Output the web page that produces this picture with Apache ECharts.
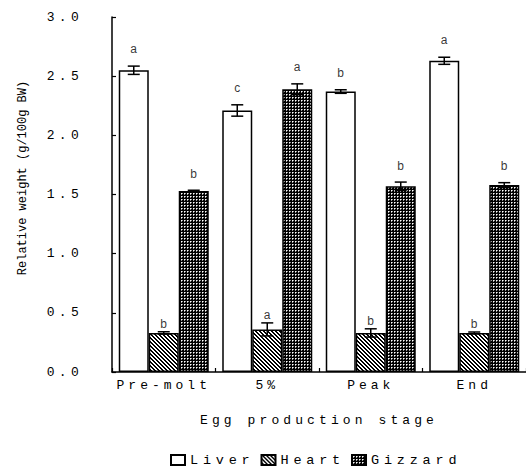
<!DOCTYPE html>
<html><head><meta charset="utf-8">
<script src="https://cdn.jsdelivr.net/npm/echarts@6/dist/echarts.min.js"></script>
<style>
html,body{margin:0;padding:0;background:#fff}
#chart{width:526px;height:470px}
#chart text[style*="ytk"]{letter-spacing:4.3px}
#chart text[style*="xtk"]{letter-spacing:4px}
#chart text[style*="xnm"]{letter-spacing:4.1px}
#chart text[style*="lgd"]{letter-spacing:4.8px}
#chart text[style*="ltr"]{letter-spacing:0.2px;opacity:0.999}
</style></head><body><div id="chart"></div>
<script>
const categories = ['Pre-molt', '5%', 'Peak', 'End'];
const seriesNames = ['Liver', 'Heart', 'Gizzard'];
const liver = [2.55, 2.21, 2.37, 2.63];
const liverErr = [0.035, 0.048, 0.015, 0.03];
const heart = [0.33, 0.36, 0.33, 0.33];
const heartErr = [0.01, 0.055, 0.035, 0.008];
const gizzard = [1.53, 2.39, 1.57, 1.58];
const gizzardErr = [0.006, 0.045, 0.035, 0.02];
const liverLetters = ['a', 'c', 'b', 'a'];
const heartLetters = ['b', 'a', 'b', 'b'];
const gizzardLetters = ['b', 'a', 'b', 'b'];
const yTickLabels = ['0.0', '0.5', '1.0', '1.5', '2.0', '2.5', '3.0'];
const xAxisName = 'Egg production stage';
const yAxisName = 'Relative weight (g/100g BW)';

const BAR_W = 30;

function makeTile(size, fn) {
  const c = document.createElement('canvas');
  c.width = size; c.height = size;
  const ctx = c.getContext('2d');
  ctx.fillStyle = '#fff'; ctx.fillRect(0, 0, size, size);
  ctx.fillStyle = '#000';
  fn(ctx);
  return {image: c.toDataURL(), repeat: 'repeat', imageWidth: size, imageHeight: size};
}
const hatch = makeTile(4, ctx => {
  for (let i = 0; i < 4; i++) {
    ctx.fillRect(i, i, 1, 1);
    ctx.fillRect((i + 1) % 4, i, 1, 1);
  }
});
const dots = makeTile(3, ctx => {
  ctx.fillRect(0, 0, 3, 3);
  ctx.fillStyle = '#fff';
  ctx.fillRect(1, 1, 1, 1);
  ctx.fillStyle = '#999';
  ctx.fillRect(2, 1, 1, 1);
  ctx.fillRect(1, 2, 1, 1);
});

const fills = ['#ffffff', hatch, dots];
const letterSets = [liverLetters, heartLetters, gizzardLetters];
const values = [liver, heart, gizzard];
const errs = [liverErr, heartErr, gizzardErr];
const letterGaps = [17, 8, 16.5];

function errRender(k) {
  return function (params, api) {
    const i = api.value(0), v = api.value(1), e = api.value(2);
    const c = api.coord([i, v]);
    const x = c[0] + (k - 1) * BAR_W;
    const yHi = api.coord([i, v + e])[1];
    const yLo = api.coord([i, v - e])[1];
    const hw = 6;
    const ls = {stroke: '#000', lineWidth: 1.5};
    return {
      type: 'group',
      children: [
        {type: 'line', shape: {x1: x, y1: yHi, x2: x, y2: yLo}, style: ls},
        {type: 'line', shape: {x1: x - hw, y1: yHi, x2: x + hw, y2: yHi}, style: ls},
        {type: 'line', shape: {x1: x - hw, y1: yLo, x2: x + hw, y2: yLo}, style: ls}
      ]
    };
  };
}

const series = [];
seriesNames.forEach((name, k) => {
  series.push({
    name: name, type: 'bar', barWidth: BAR_W, barGap: '0%',
    data: values[k],
    itemStyle: {color: fills[k], borderColor: '#000', borderWidth: 1.5},
    emphasis: {disabled: true}, animation: false
  });
});
seriesNames.forEach((name, k) => {
  series.push({
    name: name + ' error', type: 'custom', z: 5, silent: true, animation: false,
    itemStyle: {color: '#000'},
    encode: {x: 0, y: 1},
    data: values[k].map((v, i) => [i, v, errs[k][i]]),
    renderItem: errRender(k)
  });
});
seriesNames.forEach((name, k) => {
  series.push({
    name: name + ' letter', type: 'scatter', z: 6, silent: true, animation: false,
    symbol: 'rect', symbolSize: 1,
    itemStyle: {color: 'rgba(0,0,0,0)'},
    data: values[k].map((v, i) => [i, v + errs[k][i]]),
    label: {
      show: true, position: 'inside', offset: [(k - 1) * BAR_W, -letterGaps[k]],
      formatter: p => letterSets[k][p.dataIndex],
      color: '#000', fontSize: 12, fontFamily: 'Liberation Sans, ltr'
    }
  });
});

const chart = echarts.init(document.getElementById('chart'), null, {renderer: 'svg'});
chart.setOption({
  animation: false,
  backgroundColor: '#fff',
  grid: {left: 112, right: 0, top: 17, bottom: 98, outerBoundsMode: 'none', containLabel: false},
  legend: {
    data: seriesNames, left: 170, top: 453, icon: 'rect', itemWidth: 14, itemHeight: 10,
    itemGap: 30, padding: 0, selectedMode: false,
    textStyle: {color: '#000', fontSize: 13.5, fontFamily: 'Liberation Mono, lgd'}
  },
  xAxis: {
    type: 'category', data: categories,
    axisLine: {show: true, lineStyle: {color: '#000', width: 1.5}},
    axisTick: {show: true, inside: true, length: 4, lineStyle: {color: '#000', width: 1.2}},
    axisLabel: {color: '#000', fontSize: 13, fontFamily: 'Liberation Mono, xtk', margin: 7},
    name: xAxisName, nameLocation: 'middle', nameGap: 42,
    nameTextStyle: {color: '#000', fontSize: 13, fontFamily: 'Liberation Mono, xnm'}
  },
  yAxis: {
    type: 'value', min: 0, max: 3, interval: 0.5,
    axisLine: {show: true, lineStyle: {color: '#000', width: 1.5}},
    axisTick: {show: true, inside: true, length: 4, lineStyle: {color: '#000', width: 1.2}},
    splitLine: {show: false},
    axisLabel: {color: '#000', fontSize: 13, fontFamily: 'Liberation Mono, ytk', margin: 29,
      formatter: v => yTickLabels[Math.round(v / 0.5)]},
    name: yAxisName, nameLocation: 'middle', nameGap: 83, nameRotate: 90,
    nameTextStyle: {color: '#000', fontSize: 12, fontFamily: 'Liberation Mono, ynm', padding: [0, 0, 0, 33]}
  },
  series: series
});
</script></body></html>
